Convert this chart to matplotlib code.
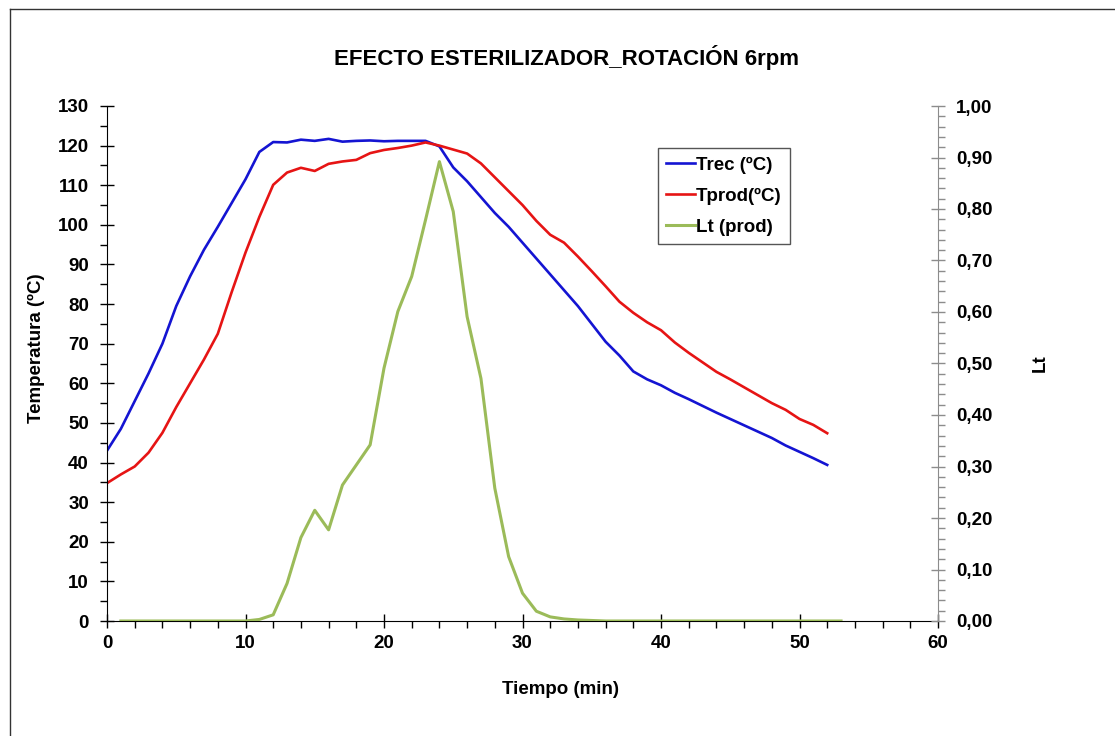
# Efecto esterilizador - rotación 6 rpm
import matplotlib
matplotlib.use('Agg')
import matplotlib.pyplot as plt
from matplotlib.ticker import MultipleLocator, FuncFormatter
from matplotlib.lines import Line2D
import numpy as np

plt.rcParams['font.family'] = ['Liberation Sans', 'DejaVu Sans']
plt.rcParams['font.weight'] = 'bold'

tiempo = np.arange(0, 53)
trec = [43, 48.5, 55.5, 62.5, 70, 79.5, 87, 93.7, 99.5, 105.5,
        111.5, 118.4, 120.9, 120.8, 121.5, 121.2, 121.7, 121, 121.2, 121.3,
        121.1, 121.2, 121.2, 121.2, 119.8, 114.5, 111, 107, 103, 99.5,
        95.5, 91.5, 87.5, 83.5, 79.5, 75, 70.5, 67, 63, 61,
        59.5, 57.6, 56, 54.3, 52.6, 51, 49.4, 47.8, 46.2, 44.3,
        42.7, 41.1, 39.4]
tprod = [34.8, 37, 39, 42.5, 47.5, 54, 60, 66, 72.5, 83,
         93, 102, 110.1, 113.2, 114.4, 113.6, 115.4, 116, 116.4, 118.1,
         118.9, 119.4, 120, 120.8, 120, 119, 118, 115.5, 112, 108.5,
         105, 101, 97.5, 95.5, 92, 88.3, 84.5, 80.6, 77.8, 75.4,
         73.4, 70.3, 67.7, 65.3, 62.9, 61, 59, 57, 55, 53.3,
         51, 49.5, 47.4]

# Lt del producto, de t=1 a t=53 min
tiempo_lt = np.arange(1, 54)
lt = [0, 0, 0, 0, 0, 0, 0, 0, 0, 0,
      0.003, 0.012, 0.073, 0.162, 0.215, 0.177, 0.264, 0.303, 0.342, 0.491,
      0.601, 0.669, 0.779, 0.892, 0.795, 0.591, 0.471, 0.258, 0.125, 0.054,
      0.019, 0.008, 0.004, 0.002, 0.001, 0, 0, 0, 0, 0,
      0, 0, 0, 0, 0, 0, 0, 0, 0, 0,
      0, 0, 0]

fig = plt.figure(figsize=(11.15, 7.36), dpi=100)
ax = fig.add_axes([107 / 1115, 1 - 621 / 736, (938 - 107) / 1115, (621 - 106) / 736])
ax2 = ax.twinx()

l1, = ax.plot(tiempo, trec, color='#1414d2', lw=1.9)
l2, = ax.plot(tiempo, tprod, color='#e61414', lw=1.9)
l3, = ax2.plot(tiempo_lt, lt, color='#9bbb59', lw=2.2)

ax.set_xlim(0, 60)
ax.set_ylim(0, 130)
ax2.set_ylim(0, 1.0)

ax.xaxis.set_major_locator(MultipleLocator(10))
ax.xaxis.set_minor_locator(MultipleLocator(2))
ax.yaxis.set_major_locator(MultipleLocator(10))
ax.yaxis.set_minor_locator(MultipleLocator(5))
ax2.yaxis.set_major_locator(MultipleLocator(0.1))
ax2.yaxis.set_minor_locator(MultipleLocator(0.02))
ax2.yaxis.set_major_formatter(FuncFormatter(lambda v, p: f'{v:.2f}'.replace('.', ',')))

for a in (ax, ax2):
    a.spines['top'].set_visible(False)
ax.spines['right'].set_visible(False)
ax2.spines['left'].set_visible(False)
ax2.spines['bottom'].set_visible(False)
ax2.spines['right'].set_color('#8c8c8c')

ax.tick_params(axis='y', which='major', direction='inout', length=10, width=1, labelsize=13.5, pad=8)
ax.tick_params(axis='x', which='major', direction='inout', length=10, width=1, labelsize=13.5, pad=5)
ax.tick_params(axis='both', which='minor', direction='out', length=5, width=1)
ax2.tick_params(axis='y', which='major', direction='inout', length=10, width=1, color='#8c8c8c', labelsize=13.5, pad=8)
ax2.tick_params(axis='y', which='minor', direction='out', length=5, width=1, color='#8c8c8c')

fig.text(567 / 1115, 1 - 57 / 736, 'EFECTO ESTERILIZADOR_ROTACIÓN 6rpm', ha='center', va='center',
         fontsize=16, fontweight='bold')
fig.text(561 / 1115, 1 - 690 / 736, 'Tiempo (min)', ha='center', va='center', fontsize=13.5, fontweight='bold')
fig.text(36 / 1115, 1 - 348 / 736, 'Temperatura (ºC)', ha='center', va='center', rotation=90,
         fontsize=13.5, fontweight='bold')
fig.text(1040 / 1115, 1 - 363 / 736, 'Lt', ha='center', va='center', rotation=90,
         fontsize=13.5, fontweight='bold')

leg = ax.legend([l1, l2, l3], ['Trec (ºC)', 'Tprod(ºC)', 'Lt (prod)'],
                loc='upper left', bbox_to_anchor=(658 / 1115, 1 - 148 / 736),
                bbox_transform=fig.transFigure, fancybox=False, framealpha=1,
                edgecolor='#555555', fontsize=13.5, handlelength=1.5, handletextpad=0.05,
                borderpad=0.45, labelspacing=0.75, borderaxespad=0)
leg.get_frame().set_linewidth(1)

# marco exterior del gráfico
fig.add_artist(Line2D([10 / 1115, 10 / 1115], [0, 1 - 9 / 736], transform=fig.transFigure, color='#333333', lw=1))
fig.add_artist(Line2D([10 / 1115, 1], [1 - 9 / 736, 1 - 9 / 736], transform=fig.transFigure, color='#333333', lw=1))

fig.savefig('out.png', dpi=100)
